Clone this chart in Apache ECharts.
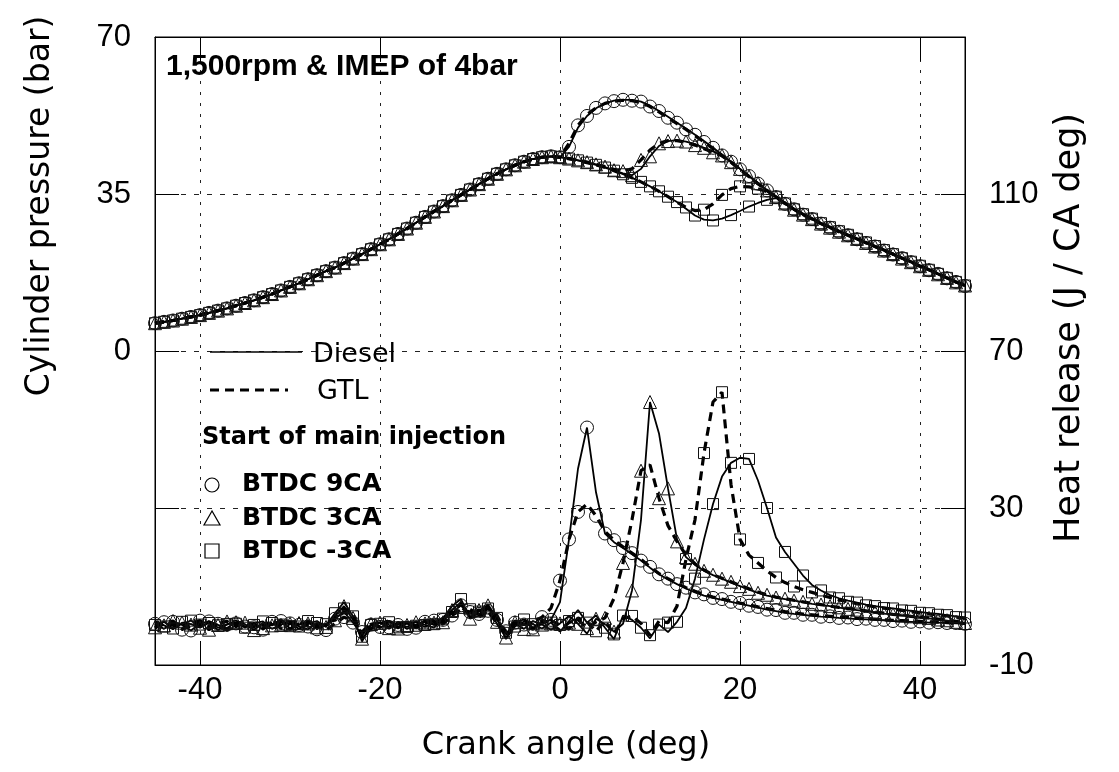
<!DOCTYPE html>
<html lang="en">
<head>
<meta charset="UTF-8">
<script src="https://cdn.jsdelivr.net/npm/echarts@6.0.0/dist/echarts.min.js"></script>
<title>Cylinder pressure and heat release</title>
<style>
  html, body { margin: 0; padding: 0; background: #fff; }
  #chart { width: 1119px; height: 772px; }
</style>
</head>
<body>
<div id="chart"></div>
<script type="text/javascript">
// crank angle (deg), one value per degree
var angle = [-45,-44,-43,-42,-41,-40,-39,-38,-37,-36,-35,-34,-33,-32,-31,-30,-29,-28,-27,-26,
  -25,-24,-23,-22,-21,-20,-19,-18,-17,-16,-15,-14,-13,-12,-11,-10,-9,-8,-7,-6,
  -5,-4,-3,-2,-1,0,1,2,3,4,5,6,7,8,9,10,11,12,13,14,15,16,17,18,19,20,
  21,22,23,24,25,26,27,28,29,30,31,32,33,34,35,36,37,38,39,40,41,42,43,44,45];

// tick labels
var xTicks = [-40, -20, 0, 20, 40];
var pressTicks = [-70, -35, 0, 35, 70];
var pressLabels = [0, 35, 70];
var heatTicks = [-10, 30, 70, 110, 150];
var heatLabels = [-10, 30, 70, 110];

// cylinder pressure (bar): compression part, -45..0 deg (same for every case)
var pComp = [6.2, 6.5, 6.8, 7.2, 7.6, 8.0, 8.5, 9.0, 9.5, 10.1,
  10.7, 11.3, 12.0, 12.7, 13.5, 14.3, 15.1, 16.0, 16.9, 17.8,
  18.6, 19.6, 20.6, 21.6, 22.7, 23.8, 24.9, 26.1, 27.3, 28.6,
  29.9, 31.1, 32.3, 33.6, 34.8, 36.0, 37.2, 38.4, 39.5, 40.5,
  41.4, 42.2, 42.8, 43.2, 43.4, 43.2];

// cylinder pressure (bar), 1..45 deg
var pDiesel9 = [45.5, 49.8, 52.4, 54.1, 55.2, 55.8, 56.0, 56.0, 55.6, 54.7,
  53.5, 52.2, 50.9, 49.6, 48.2, 46.8, 45.3, 43.8, 42.2, 40.6,
  39.0, 37.4, 35.8, 34.3, 32.8, 31.5, 30.4, 29.4, 28.4, 27.5,
  26.6, 25.8, 24.9, 24.1, 23.3, 22.4, 21.5, 20.6, 19.8, 18.9,
  18.0, 17.1, 16.2, 15.3, 14.5];
var pGtl9 = [46.3, 50.3, 52.7, 54.2, 55.2, 55.7, 55.9, 55.8, 55.4, 54.5,
  53.3, 52.0, 50.7, 49.4, 48.0, 46.6, 45.1, 43.6, 42.1, 40.5,
  38.9, 37.3, 35.8, 34.3, 32.9, 31.6, 30.4, 29.4, 28.4, 27.5,
  26.6, 25.8, 25.0, 24.1, 23.3, 22.4, 21.6, 20.7, 19.8, 18.9,
  18.1, 17.2, 16.3, 15.4, 14.6];
var pDiesel3 = [42.9, 42.5, 42.1, 41.6, 41.0, 40.3, 39.6, 39.2, 40.6, 43.4,
  45.7, 46.8, 47.0, 46.7, 46.1, 45.3, 44.5, 43.6, 42.2, 40.6,
  39.0, 37.4, 35.8, 34.3, 32.8, 31.5, 30.4, 29.4, 28.4, 27.5,
  26.6, 25.8, 24.9, 24.1, 23.3, 22.4, 21.5, 20.6, 19.8, 18.9,
  18.0, 17.1, 16.2, 15.3, 14.5];
var pGtl3 = [42.9, 42.5, 42.1, 41.6, 41.1, 40.5, 40.1, 40.6, 42.6, 44.8,
  46.3, 46.9, 46.9, 46.5, 45.9, 45.1, 44.3, 43.5, 42.1, 40.5,
  38.9, 37.3, 35.8, 34.3, 32.9, 31.6, 30.4, 29.4, 28.4, 27.5,
  26.6, 25.8, 25.0, 24.1, 23.3, 22.4, 21.6, 20.7, 19.8, 18.9,
  18.1, 17.2, 16.3, 15.4, 14.6];
var pDieselM3 = [42.9, 42.5, 42.0, 41.5, 40.9, 40.2, 39.4, 38.6, 37.7, 36.7,
  35.6, 34.4, 33.2, 31.7, 30.2, 29.3, 29.1, 29.5, 30.3, 31.2,
  32.2, 33.0, 33.7, 34.1, 32.9, 31.6, 30.5, 29.5, 28.5, 27.6,
  26.7, 25.9, 25.0, 24.2, 23.4, 22.5, 21.6, 20.7, 19.9, 19.0,
  18.1, 17.2, 16.3, 15.4, 14.6];
var pGtlM3 = [42.9, 42.5, 42.0, 41.5, 40.9, 40.2, 39.4, 38.6, 37.7, 36.7,
  35.6, 34.4, 33.2, 32.0, 31.3, 31.5, 32.8, 34.8, 36.2, 36.7,
  36.6, 36.2, 35.5, 34.4, 33.0, 31.6, 30.5, 29.5, 28.5, 27.6,
  26.7, 25.9, 25.0, 24.2, 23.4, 22.5, 21.6, 20.7, 19.9, 19.0,
  18.1, 17.2, 16.3, 15.4, 14.6];

// heat release (J / CA deg), -45..45 deg
var hDiesel9 = [0.5, -0.8, 1.0, 0.2, -1.2, 0.6, 1.1, -0.5, 0.3, 1.4,
  -0.2, 0.8, -1.0, 0.4, 1.2, -0.6, 0.2, 0.9, -0.9, 0.5,
  1.8, 3.5, 0.8, -2.5, 0.3, 0.9, -0.4, 0.6, -0.8, 0.3,
  1.0, 0.2, 1.5, 3.2, 5.2, 2.4, 3.0, 4.6, 1.5, -2.2,
  0.8, 1.6, -0.5, 0.9, 1.5, 6.0, 22.0, 40.0, 50.5, 34.0,
  23.5, 21.3, 19.8, 18.2, 16.6, 14.8, 13.1, 11.8, 10.6, 9.5,
  8.5, 7.7, 7.1, 6.6, 6.1, 5.6, 5.1, 4.6, 4.1, 3.7,
  3.3, 3.0, 2.8, 2.5, 2.3, 2.2, 2.0, 1.9, 1.7, 1.6,
  1.5, 1.4, 1.2, 1.1, 1.0, 0.9, 0.8, 0.8, 0.7, 0.6,
  0.5];
var hGtl9 = [-0.6, 0.9, 0.1, -1.0, 0.7, 1.3, -0.3, 0.5, -0.9, 0.6,
  1.1, -0.4, 0.3, 1.0, -0.7, 0.6, 1.4, -0.2, 0.4, -1.1,
  0.6, 2.2, 1.2, -1.6, 0.8, -0.3, 1.1, 0.2, 0.9, -0.5,
  0.7, 1.3, 0.4, 2.6, 4.1, 3.5, 2.2, 3.8, 0.6, -1.4,
  1.2, 0.3, 1.0, 2.2, 4.5, 11.5, 22.0, 29.0, 31.0, 28.0,
  24.0, 21.8, 20.1, 18.5, 16.9, 15.0, 13.3, 12.0, 10.8, 9.7,
  8.8, 8.0, 7.3, 6.8, 6.3, 5.8, 5.3, 4.8, 4.4, 4.0,
  3.6, 3.3, 3.0, 2.8, 2.6, 2.4, 2.2, 2.1, 1.9, 1.8,
  1.7, 1.5, 1.4, 1.3, 1.2, 1.1, 1.0, 0.9, 0.8, 0.7,
  0.6];
var hDiesel3 = [0.9, 0.1, -0.9, 0.8, 0.4, -0.5, 1.2, 0.2, -0.6, 0.9,
  0.4, -1.1, 0.7, 0.1, 1.0, 0.5, -0.8, 0.6, 1.2, -0.3,
  2.6, 5.0, 1.5, -3.3, -0.5, 0.8, 0.2, -0.7, 0.6, 0.9,
  -0.3, 0.8, 2.1, 4.0, 6.0, 1.8, 2.6, 5.2, 0.4, -3.0,
  0.5, -0.8, 1.2, 0.3, -1.0, 0.6, 2.5, 0.5, -2.0, 1.8,
  0.4, -1.5, 0.5, 9.0, 27.0, 57.0, 49.0, 35.0, 22.0, 17.5,
  15.5, 14.0, 12.9, 12.0, 11.0, 10.1, 9.2, 8.4, 7.7, 7.2,
  6.8, 6.4, 6.0, 5.6, 5.3, 5.0, 4.6, 4.3, 4.0, 3.7,
  3.4, 3.1, 2.9, 2.6, 2.4, 2.2, 1.9, 1.6, 1.3, 1.0,
  0.6];
var hGtl3 = [-0.4, 0.7, 1.2, -0.8, 0.3, 0.9, -1.0, 0.6, 1.1, -0.2,
  0.8, 0.3, -0.6, 1.3, 0.2, -0.9, 0.7, 0.1, -0.4, 1.0,
  1.4, 3.6, 2.0, -1.9, 0.4, 1.0, -0.6, 0.8, 0.2, -0.3,
  0.6, 1.5, 0.9, 2.8, 4.8, 2.9, 4.0, 3.6, 1.0, -2.6,
  0.9, 0.2, -0.9, 1.4, 0.6, -1.2, 0.8, 1.6, -0.6, 1.0,
  2.0, 7.0, 16.0, 27.0, 39.5, 41.0, 32.5, 25.5, 21.5, 18.0,
  15.8, 14.2, 13.0, 12.1, 11.2, 10.3, 9.4, 8.6, 7.9, 7.3,
  6.9, 6.5, 6.1, 5.7, 5.4, 5.0, 4.7, 4.4, 4.1, 3.8,
  3.5, 3.2, 2.9, 2.7, 2.4, 2.2, 2.0, 1.7, 1.4, 1.1,
  0.7];
var hDieselM3 = [0.2, 1.0, -0.7, 0.5, 1.3, -0.4, 0.7, -1.1, 0.4, 0.8,
  -0.5, 0.6, 1.1, -0.8, 0.3, 1.2, -0.2, -0.9, 0.7, 0.2,
  3.2, 6.0, 2.4, -4.0, 0.2, -0.6, 0.9, 0.4, -0.3, 1.1,
  0.2, -0.5, 1.8, 5.0, 6.8, 2.0, 3.6, 5.4, 2.0, -3.4,
  -0.2, 1.1, 0.4, -0.7, 0.8, -1.5, 1.2, 4.0, 0.8, 2.6,
  -0.5, -3.4, 2.6, 1.5, -0.5, -3.2, 0.3, -1.6, 1.0, 4.5,
  12.0, 22.0, 31.0, 38.0, 41.5, 42.8, 42.5, 37.0, 30.0, 22.5,
  18.8, 15.8, 12.8, 10.4, 9.0, 7.8, 7.0, 6.4, 5.9, 5.4,
  5.0, 4.7, 4.4, 4.1, 3.8, 3.5, 3.2, 3.0, 2.7, 2.4,
  2.1];
var hGtlM3 = [1.1, -0.2, 0.4, 1.0, -0.9, 0.3, 0.8, 0.1, -1.2, 0.5,
  0.9, 0.2, -0.4, 0.7, 1.4, -0.1, 0.5, 1.2, -0.6, 0.4,
  2.0, 4.4, 3.0, -2.8, -0.8, 0.5, 1.3, -0.4, 0.7, 0.0,
  1.2, 0.4, 1.1, 3.5, 5.5, 4.2, 2.8, 4.4, 2.6, -1.8,
  0.4, 1.6, -0.3, 0.6, 1.3, 0.2, -0.9, 2.0, 1.0, -1.4,
  1.3, -2.2, 1.8, 2.5, 0.6, -2.4, 1.2, 0.8, 5.0, 17.0,
  27.0, 44.0, 57.0, 59.5, 36.0, 22.0, 18.0, 16.0, 14.0, 12.3,
  11.0, 10.0, 9.2, 8.5, 7.8, 7.2, 6.6, 6.1, 5.6, 5.2,
  4.8, 4.5, 4.2, 3.9, 3.6, 3.3, 3.0, 2.8, 2.5, 2.2,
  1.9];

var chart = echarts.init(document.getElementById('chart'));

var NUM_FONT = 'Liberation Sans';

function pairs(values) {
  return angle.map(function (a, i) { return [a, values[i]]; });
}

// one curve: diesel = thin solid, GTL = thick dashes; hollow marker every 2nd point
function curve(name, values, axis, symbol, gtl, offset) {
  var size = symbol === 'rect' ? 11 : 13;
  return {
    name: name,
    type: 'line',
    yAxisIndex: axis,
    data: pairs(values),
    symbol: symbol,
    showAllSymbol: true,
    symbolSize: function (v, p) { return p.dataIndex % 2 === offset ? size : 0; },
    itemStyle: { color: 'rgba(0,0,0,0)', borderColor: '#111', borderWidth: 1 },
    lineStyle: { color: '#000', width: gtl ? 3.2 : 1.8, type: gtl ? [9, 6] : 'solid' },
    emphasis: { disabled: true },
    silent: true
  };
}

function label(text, x, y, font) {
  return { type: 'text', x: x, y: y, z: 100,
    style: { text: text, font: font, fill: '#000', textAlign: 'left', textVerticalAlign: 'middle', align: 'left', verticalAlign: 'middle' } };
}

function axisName(text, x, y, font, rot) {
  return { type: 'text', x: x, y: y, rotation: rot, z: 100,
    style: { text: text, font: font, fill: '#000', textAlign: 'center', textVerticalAlign: 'middle', align: 'center', verticalAlign: 'middle' } };
}

var option = {
  animation: false,
  backgroundColor: '#fff',
  grid: { left: 155, right: 154, top: 37, bottom: 107, show: true, borderColor: '#000', borderWidth: 1, containLabel: false },
  xAxis: [{
    type: 'value', min: -45, max: 45, position: 'bottom',
    axisLine: { show: true, onZero: false, lineStyle: { color: '#000', width: 1 } },
    axisTick: { show: true, inside: true, length: 24, customValues: xTicks, lineStyle: { color: '#000' } },
    axisLabel: { customValues: xTicks, margin: 10, color: '#000', fontFamily: NUM_FONT, fontSize: 31 },
    splitLine: { show: true, lineStyle: { color: '#222', type: [3, 8], width: 1 } }
  }, {
    type: 'value', min: -45, max: 45, position: 'top',
    axisLine: { show: true, onZero: false, lineStyle: { color: '#000', width: 1 } },
    axisTick: { show: true, inside: true, length: 24, customValues: xTicks, lineStyle: { color: '#000' } },
    axisLabel: { show: false },
    splitLine: { show: false }
  }],
  yAxis: [{
    type: 'value', min: -70, max: 70, interval: 35, position: 'left',
    axisLine: { show: true, onZero: false, lineStyle: { color: '#000', width: 1 } },
    axisTick: { show: true, inside: true, length: 24, customValues: pressTicks, lineStyle: { color: '#000' } },
    axisLabel: { customValues: pressLabels, margin: 24, color: '#000', fontFamily: NUM_FONT, fontSize: 31 },
    splitLine: { show: true, lineStyle: { color: '#222', type: [5, 8], width: 1 } }
  }, {
    type: 'value', min: -10, max: 150, position: 'right',
    axisLine: { show: true, onZero: false, lineStyle: { color: '#000', width: 1 } },
    axisTick: { show: true, inside: true, length: 24, customValues: heatTicks, lineStyle: { color: '#000' } },
    axisLabel: { customValues: heatLabels, margin: 24, color: '#000', fontFamily: NUM_FONT, fontSize: 31 },
    splitLine: { show: false }
  }],
  series: [
    curve('Diesel BTDC 9CA HR', hDiesel9, 1, 'circle', false, 0),
    curve('GTL BTDC 9CA HR', hGtl9, 1, 'circle', true, 1),
    curve('Diesel BTDC 3CA HR', hDiesel3, 1, 'triangle', false, 1),
    curve('GTL BTDC 3CA HR', hGtl3, 1, 'triangle', true, 0),
    curve('Diesel BTDC -3CA HR', hDieselM3, 1, 'rect', false, 0),
    curve('GTL BTDC -3CA HR', hGtlM3, 1, 'rect', true, 1),
    curve('Diesel BTDC 9CA', pComp.concat(pDiesel9), 0, 'circle', false, 0),
    curve('GTL BTDC 9CA', pComp.concat(pGtl9), 0, 'circle', true, 1),
    curve('Diesel BTDC 3CA', pComp.concat(pDiesel3), 0, 'triangle', false, 1),
    curve('GTL BTDC 3CA', pComp.concat(pGtl3), 0, 'triangle', true, 0),
    curve('Diesel BTDC -3CA', pComp.concat(pDieselM3), 0, 'rect', false, 0),
    curve('GTL BTDC -3CA', pComp.concat(pGtlM3), 0, 'rect', true, 1)
  ],
  graphic: [
    // condition label
    label('1,500rpm & IMEP of 4bar', 166, 67, 'bold 30px "Liberation Sans"'),
    // axis names
    axisName('Cylinder pressure (bar)', 40, 206, '33px "DejaVu Sans"', Math.PI / 2),
    axisName('Heat release (J / CA deg)', 1070, 328, '35px "DejaVu Sans"', Math.PI / 2),
    axisName('Crank angle (deg)', 566, 746, '32px "DejaVu Sans"', 0),
    // legend
    { type: 'line', z: 100, shape: { x1: 210, y1: 352, x2: 302, y2: 352 }, style: { stroke: '#000', lineWidth: 1.5 } },
    label('Diesel', 313, 355, '27px "DejaVu Sans"'),
    { type: 'line', z: 100, shape: { x1: 210, y1: 390, x2: 288, y2: 390 }, style: { stroke: '#000', lineWidth: 3, lineDash: [9, 6] } },
    label('GTL', 317, 392, '27px "DejaVu Sans"'),
    label('Start of main injection', 202, 438, 'bold 24px "DejaVu Sans"'),
    { type: 'circle', z: 100, shape: { cx: 212, cy: 485, r: 7 }, style: { fill: 'none', stroke: '#000', lineWidth: 1.2 } },
    label('BTDC 9CA', 242, 484, 'bold 25px "DejaVu Sans"'),
    { type: 'polygon', z: 100, shape: { points: [[212, 511], [204, 525], [220, 525]] }, style: { fill: 'none', stroke: '#000', lineWidth: 1.2 } },
    label('BTDC 3CA', 242, 518, 'bold 25px "DejaVu Sans"'),
    { type: 'rect', z: 100, shape: { x: 205, y: 544, width: 14, height: 14 }, style: { fill: 'none', stroke: '#000', lineWidth: 1.2 } },
    label('BTDC -3CA', 242, 551, 'bold 25px "DejaVu Sans"')
  ]
};

chart.setOption(option);
</script>
</body>
</html>
